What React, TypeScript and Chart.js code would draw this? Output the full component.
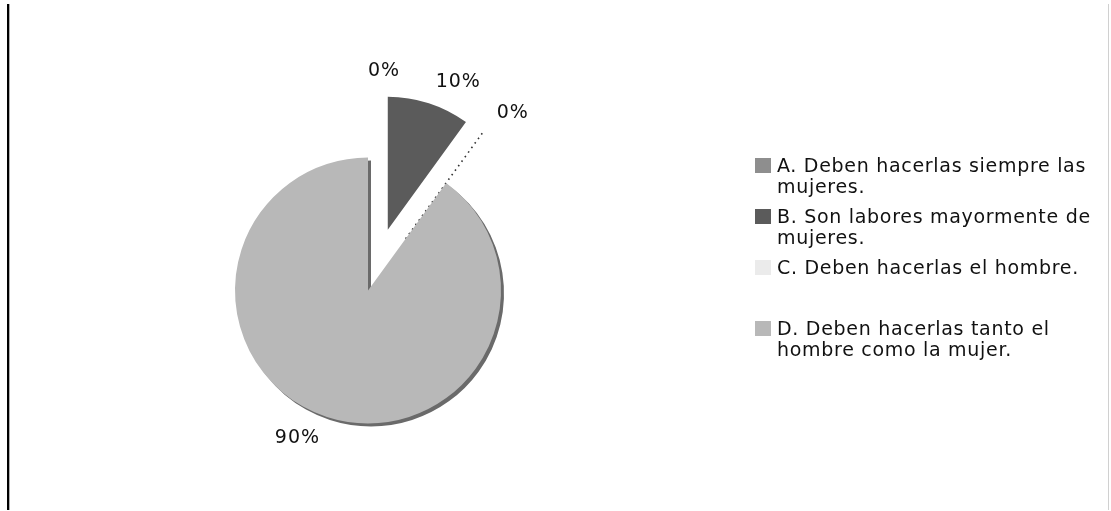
import { useEffect, useRef } from "react";
import { Chart, registerables } from "chart.js";

Chart.register(...registerables);

// ---- data ----
const categories: string[][] = [
  ["A. Deben hacerlas siempre las", "mujeres."],
  ["B. Son labores mayormente de", "mujeres."],
  ["C. Deben hacerlas el hombre."],
  ["D. Deben hacerlas tanto el", "hombre como la mujer."],
];
const percentages = [0, 10, 0, 90];
const valueLabels = ["0%", "10%", "0%", "90%"];

// ---- styles ----
const sliceColors = ["#8e8e8e", "#5b5b5b", "#ebebeb", "#b8b8b8"];
const explodedSlices = [true, true, true, false];
const shadowSlices = [false, false, false, true];
const dottedEdgeSlices = [false, false, true, false];
const EXPLODE_PX = 64;
const PIE_RADIUS = 133;
const LABEL_GAP = 22;
const legendTops = [155, 206, 257, 318];
const FONT = "'DejaVu Sans', Verdana, sans-serif";

const explodedPiePlugin = {
  id: "explodedPie",
  beforeDatasetDraw(chart: any, args: any) {
    const meta = chart.getDatasetMeta(args.index);
    const ctx: CanvasRenderingContext2D = chart.ctx;
    meta.data.forEach((arc: any, i: number) => {
      const { startAngle, endAngle, x, y, outerRadius } = arc.getProps(
        ["startAngle", "endAngle", "x", "y", "outerRadius"],
        true
      );
      const mid = (startAngle + endAngle) / 2;
      const d = explodedSlices[i] ? EXPLODE_PX : 0;
      const dx = Math.cos(mid) * d;
      const dy = Math.sin(mid) * d;
      ctx.save();
      ctx.translate(dx, dy);
      if (shadowSlices[i]) {
        ctx.shadowColor = "#6a6a6a";
        ctx.shadowOffsetX = 3;
        ctx.shadowOffsetY = 3;
        ctx.shadowBlur = 0;
      }
      arc.draw(ctx);
      ctx.restore();

      if (dottedEdgeSlices[i]) {
        ctx.save();
        ctx.strokeStyle = "#333";
        ctx.lineWidth = 1.6;
        ctx.setLineDash([1.6, 4]);
        ctx.beginPath();
        ctx.moveTo(x + dx, y + dy);
        ctx.lineTo(
          x + dx + Math.cos(startAngle) * outerRadius,
          y + dy + Math.sin(startAngle) * outerRadius
        );
        ctx.stroke();
        ctx.restore();
      }

      // value label
      const lr = outerRadius + LABEL_GAP;
      const lx = x + dx + Math.cos(mid) * lr;
      const ly = y + dy + Math.sin(mid) * lr;
      ctx.save();
      ctx.font = `19px ${FONT}`;
      (ctx as any).letterSpacing = "1px";
      ctx.fillStyle = "#111";
      ctx.textAlign = Math.cos(mid) >= -1e-6 ? "left" : "right";
      ctx.textBaseline = "middle";
      ctx.fillText(valueLabels[i], lx, ly);
      ctx.restore();
    });
    return false;
  },
};

export default function App() {
  const canvasRef = useRef<HTMLCanvasElement | null>(null);

  useEffect(() => {
    const canvas = canvasRef.current;
    if (!canvas) return;
    const chart = new Chart(canvas, {
      type: "pie",
      data: {
        labels: categories.map((c) => c.join(" ")),
        datasets: [
          {
            data: percentages,
            backgroundColor: sliceColors,
            borderWidth: 0,
            radius: PIE_RADIUS,
          } as any,
        ],
      },
      options: {
        responsive: false,
        animation: false,
        events: [],
        radius: PIE_RADIUS,
        layout: { padding: { left: 0, right: 375, top: 70, bottom: 0 } },
        plugins: {
          legend: { display: false },
          tooltip: { enabled: false },
        },
      } as any,
      plugins: [explodedPiePlugin],
    });
    return () => chart.destroy();
  }, []);

  return (
    <div
      style={{
        position: "absolute",
        left: 0,
        top: 0,
        width: 1111,
        height: 511,
        background: "#fff",
        overflow: "hidden",
      }}
    >
      <canvas
        ref={canvasRef}
        width={1111}
        height={511}
        style={{ position: "absolute", left: 0, top: 0, width: 1111, height: 511 }}
      />
      <div
        style={{
          position: "absolute",
          left: 7,
          top: 4,
          width: 2,
          height: 506,
          background: "#000",
          borderRight: "1px solid #b0b0b0",
        }}
      />
      <div
        style={{
          position: "absolute",
          left: 1108,
          top: 4,
          width: 1,
          height: 506,
          background: "#d0d0d0",
        }}
      />
      {categories.map((lines, i) => (
        <div
          key={i}
          style={{
            position: "absolute",
            left: 755,
            top: legendTops[i],
            display: "flex",
            alignItems: "flex-start",
            fontFamily: FONT,
            fontSize: 19,
            lineHeight: "21px",
            letterSpacing: "0.7px",
            color: "#111",
            whiteSpace: "nowrap",
          }}
        >
          <div
            style={{
              width: 16,
              height: 15,
              marginTop: 3,
              marginRight: 6,
              background: sliceColors[i],
              flex: "none",
            }}
          />
          <div>
            {lines.map((l, j) => (
              <div key={j}>{l}</div>
            ))}
          </div>
        </div>
      ))}
    </div>
  );
}
